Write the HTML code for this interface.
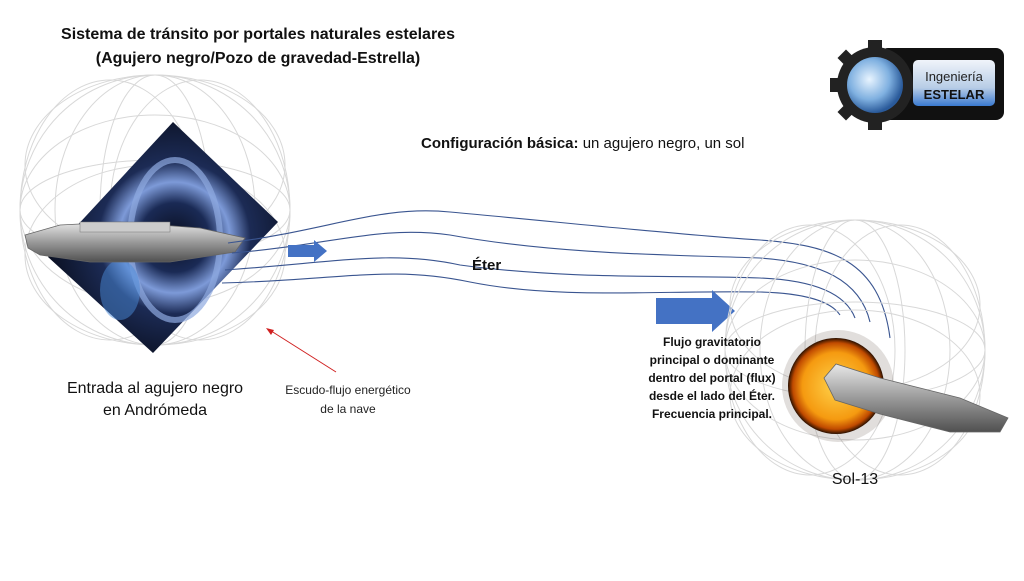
<!DOCTYPE html>
<html><head><meta charset="utf-8"><style>
body{margin:0;width:1024px;height:576px;background:#fff;overflow:hidden;font-family:"Liberation Sans",sans-serif}
</style></head><body>
<svg width="1024" height="576" viewBox="0 0 1024 576" xmlns="http://www.w3.org/2000/svg" font-family="Liberation Sans, sans-serif">
<defs>
<radialGradient id="bh" cx="0.55" cy="0.5" r="0.6"><stop offset="0" stop-color="#0a0f20"/><stop offset="0.25" stop-color="#1a2a55"/><stop offset="0.4" stop-color="#7d9ad8"/><stop offset="0.55" stop-color="#1c2b55"/><stop offset="1" stop-color="#070b18"/></radialGradient>
<radialGradient id="sun" cx="0.5" cy="0.5" r="0.5"><stop offset="0" stop-color="#ffd24a"/><stop offset="0.7" stop-color="#f59a10"/><stop offset="0.9" stop-color="#c04a00"/><stop offset="1" stop-color="#2a1000"/></radialGradient>
<radialGradient id="glob" cx="0.4" cy="0.4" r="0.6"><stop offset="0" stop-color="#e8f4ff"/><stop offset="0.6" stop-color="#7fb0e0"/><stop offset="1" stop-color="#2a5a9a"/></radialGradient>
<linearGradient id="btn" x1="0" y1="0" x2="0" y2="1"><stop offset="0" stop-color="#f0f4fa"/><stop offset="0.6" stop-color="#b8cde6"/><stop offset="1" stop-color="#3a7ad0"/></linearGradient>
<linearGradient id="ship" x1="0" y1="0" x2="0" y2="1"><stop offset="0" stop-color="#e8e8e8"/><stop offset="0.5" stop-color="#9a9a9a"/><stop offset="1" stop-color="#505050"/></linearGradient>
</defs>
<text x="258" y="39" text-anchor="middle" font-size="16" font-weight="bold" fill="#111">Sistema de tránsito por portales naturales estelares</text>
<text x="258" y="63" text-anchor="middle" font-size="16" font-weight="bold" fill="#111">(Agujero negro/Pozo de gravedad-Estrella)</text>
<g fill="none" stroke="#d8d8d8" stroke-width="1">
<circle cx="155" cy="210" r="135"/>
<ellipse cx="155" cy="210" rx="100" ry="135"/><ellipse cx="155" cy="210" rx="55" ry="135"/>
<ellipse cx="155" cy="210" rx="135" ry="95"/><ellipse cx="155" cy="210" rx="135" ry="50"/>
<ellipse cx="110" cy="210" rx="90" ry="130"/><ellipse cx="200" cy="210" rx="90" ry="130"/>
<ellipse cx="155" cy="165" rx="130" ry="90"/><ellipse cx="155" cy="255" rx="130" ry="90"/>
</g>
<polygon points="173,122 278,222 153,353 48,257" fill="url(#bh)"/>
<ellipse cx="175" cy="240" rx="45" ry="80" fill="none" stroke="#8fa9e0" stroke-width="6" opacity="0.7"/>
<ellipse cx="120" cy="290" rx="20" ry="30" fill="#4a8ad8" opacity="0.5"/>
<path d="M25,235 L60,225 L120,222 L200,228 L245,238 L235,252 L170,262 L90,262 L40,255 L28,248 Z" fill="url(#ship)" stroke="#666" stroke-width="0.8"/>
<rect x="80" y="222" width="90" height="10" fill="#ccc" stroke="#777" stroke-width="0.5"/>
<g fill="none" stroke="#3a5590" stroke-width="1.1">
<path d="M228,243 C330,230 380,205 450,212 C560,222 680,235 760,240 C830,245 880,260 890,338"/>
<path d="M232,253 C330,245 380,225 450,235 C560,255 680,255 760,258 C820,262 860,280 870,322"/>
<path d="M225,270 C340,262 390,250 460,265 C570,280 680,275 760,278 C810,280 845,292 855,318"/>
<path d="M222,283 C340,280 390,265 470,282 C560,300 660,290 760,292 C800,293 830,300 840,315"/>
</g>
<polygon points="288,245 314,245 314,240 327,251 314,262 314,257 288,257" fill="#4472c4"/>
<polygon points="656,298 712,298 712,290 735,311 712,332 712,324 656,324" fill="#4472c4"/>
<text x="472" y="270" font-size="15" font-weight="bold" fill="#111">Éter</text>
<text x="421" y="148" font-size="15" fill="#111"><tspan font-weight="bold">Configuración básica:</tspan> un agujero negro, un sol</text>
<line x1="336" y1="372" x2="268" y2="329" stroke="#d02020" stroke-width="1"/>
<polygon points="266,328 274,330 271,335" fill="#d02020"/>
<text x="155" y="393" text-anchor="middle" font-size="16" fill="#111">Entrada al agujero negro</text>
<text x="155" y="415" text-anchor="middle" font-size="16" fill="#111">en Andrómeda</text>
<text x="348" y="394" text-anchor="middle" font-size="12" fill="#222">Escudo-flujo energético</text>
<text x="348" y="413" text-anchor="middle" font-size="12" fill="#222">de la nave</text>
<g fill="none" stroke="#d8d8d8" stroke-width="1">
<circle cx="855" cy="350" r="130"/>
<ellipse cx="855" cy="350" rx="95" ry="130"/><ellipse cx="855" cy="350" rx="50" ry="130"/>
<ellipse cx="855" cy="350" rx="130" ry="90"/><ellipse cx="855" cy="350" rx="130" ry="48"/>
<ellipse cx="810" cy="350" rx="85" ry="125"/><ellipse cx="900" cy="350" rx="85" ry="125"/>
<ellipse cx="855" cy="305" rx="125" ry="85"/><ellipse cx="855" cy="395" rx="125" ry="85"/>
</g>
<circle cx="838" cy="386" r="56" fill="#6a5a50" opacity="0.2"/>
<circle cx="836" cy="386" r="48" fill="url(#sun)"/>
<path d="M824,378 L836,364 L880,378 L960,398 L1008,418 L1000,432 L950,432 L880,414 L835,400 Z" fill="url(#ship)" stroke="#666" stroke-width="0.8"/>
<text x="712" y="346" text-anchor="middle" font-size="12" font-weight="bold" fill="#111">Flujo gravitatorio</text>
<text x="712" y="364" text-anchor="middle" font-size="12" font-weight="bold" fill="#111">principal o dominante</text>
<text x="712" y="382" text-anchor="middle" font-size="12" font-weight="bold" fill="#111">dentro del portal (flux)</text>
<text x="712" y="400" text-anchor="middle" font-size="12" font-weight="bold" fill="#111">desde el lado del Éter.</text>
<text x="712" y="418" text-anchor="middle" font-size="12" font-weight="bold" fill="#111">Frecuencia principal.</text>
<text x="855" y="484" text-anchor="middle" font-size="16" fill="#111">Sol-13</text>
<rect x="880" y="48" width="124" height="72" rx="8" fill="#111"/>
<g fill="#222">
<circle cx="875" cy="85" r="38"/>
<rect x="868" y="40" width="14" height="12"/><rect x="868" y="118" width="14" height="12"/>
<rect x="830" y="78" width="12" height="14"/>
<rect x="840" y="52" width="12" height="12" transform="rotate(45 846 58)"/>
<rect x="840" y="106" width="12" height="12" transform="rotate(45 846 112)"/>
</g>
<circle cx="875" cy="85" r="28" fill="url(#glob)"/>
<rect x="913" y="60" width="82" height="46" rx="5" fill="url(#btn)"/>
<text x="954" y="81" text-anchor="middle" font-size="13" fill="#222">Ingeniería</text>
<text x="954" y="99" text-anchor="middle" font-size="13" font-weight="bold" fill="#111">ESTELAR</text>
</svg>
</body></html>
